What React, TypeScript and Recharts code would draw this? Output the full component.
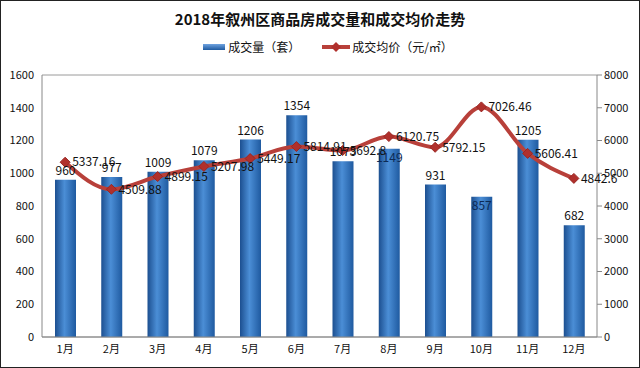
import { Bar, CartesianGrid, ComposedChart, LabelList, Line, XAxis, YAxis } from "recharts";

const months = ["1月", "2月", "3月", "4月", "5月", "6月", "7月", "8月", "9月", "10月", "11月", "12月"];
const volume = [960, 977, 1009, 1079, 1206, 1354, 1073, 1149, 931, 857, 1205, 682];
const price = [5337.16, 4509.88, 4899.15, 5207.98, 5449.17, 5814.91, 5692.8, 6120.75, 5792.15, 7026.46, 5606.41, 4842.6];
const leftTicks = [0, 200, 400, 600, 800, 1000, 1200, 1400, 1600];
const rightTicks = [0, 1000, 2000, 3000, 4000, 5000, 6000, 7000, 8000];
// months whose volume label sits just inside the bar top, as in the source image
const insideLabel = ["8月", "10月"];

const data = months.map((m, i) => ({ month: m, volume: volume[i], price: price[i] }));

const font = "'Noto Sans CJK SC', 'Liberation Sans', sans-serif";

function Diamond(props: any) {
  const { cx, cy } = props;
  if (cx == null || cy == null) return null;
  const r = 5;
  return <path d={`M${cx},${cy - r}L${cx + r},${cy}L${cx},${cy + r}L${cx - r},${cy}Z`} fill="#b0302c" stroke="#9a2622" strokeWidth={1} />;
}

function VolumeLabel(props: any) {
  const { x, y, width, value, index } = props;
  const inside = insideLabel.includes(months[index]);
  return (
    <text
      x={x + width / 2}
      y={inside ? y + 13 : y - 5}
      textAnchor="middle"
      fontSize={12}
      fontFamily={font}
      fill={inside ? "#0c2a55" : "#111"}
    >
      {value}
    </text>
  );
}

export default function App() {
  return (
    <div style={{ position: "fixed", left: 0, top: 0, width: 640, height: 368, background: "#fff", fontFamily: font }}>
      <div style={{ position: "absolute", left: 0, top: 0, width: 638, height: 366, border: "1px solid #222" }} />
      <div style={{ position: "absolute", top: 8, width: 640, textAlign: "center", fontSize: 15, fontWeight: "bold", color: "#111" }}>
        2018年叙州区商品房成交量和成交均价走势
      </div>
      <div style={{ position: "absolute", top: 38, left: 8, width: 640, display: "flex", justifyContent: "center", alignItems: "center", fontSize: 12, color: "#111" }}>
        <span style={{ display: "inline-block", width: 22, height: 6, background: "linear-gradient(#6fa3e0,#1f5aa0)", marginRight: 3 }} />
        <span>成交量（套）</span>
        <svg width={28} height={12} style={{ marginLeft: 22, marginRight: 2 }}>
          <line x1={0} y1={6} x2={28} y2={6} stroke="#b8403a" strokeWidth={4} />
          <path d="M14,1L19,6L14,11L9,6Z" fill="#b0302c" />
        </svg>
        <span>成交均价（元/㎡）</span>
      </div>
      <div style={{ position: "absolute", left: 0, top: 0 }}>
        <ComposedChart width={640} height={368} data={data} margin={{ top: 75, right: 0, bottom: 6, left: 0 }}>
          <defs>
            <linearGradient id="barBlue" x1="0" y1="0" x2="1" y2="0">
              <stop offset="0%" stopColor="#1c4f90" />
              <stop offset="45%" stopColor="#4b8ed6" />
              <stop offset="100%" stopColor="#1f5aa0" />
            </linearGradient>
          </defs>
          <CartesianGrid stroke="#9a9a9a" vertical={false} />
          <XAxis
            dataKey="month"
            stroke="#888"
            tickLine={false}
            height={25}
            tick={{ fontSize: 11, fill: "#111", fontFamily: font }}
          />
          <YAxis
            yAxisId="left"
            domain={[0, 1600]}
            ticks={leftTicks}
            width={42}
            stroke="#888"
            tickLine={false}
            tick={{ fontSize: 11, fill: "#111", fontFamily: font }}
          />
          <YAxis
            yAxisId="right"
            orientation="right"
            domain={[0, 8000]}
            ticks={rightTicks}
            width={43}
            stroke="#888"
            tickSize={5}
            tick={{ fontSize: 11, fill: "#111", fontFamily: font }}
          />
          <Bar yAxisId="left" dataKey="volume" barSize={21} fill="url(#barBlue)" isAnimationActive={false}>
            <LabelList dataKey="volume" content={<VolumeLabel />} />
          </Bar>
          <Line
            yAxisId="right"
            type="monotone"
            dataKey="price"
            stroke="#b8403a"
            strokeWidth={4}
            dot={<Diamond />}
            activeDot={false}
            isAnimationActive={false}
          >
            <LabelList dataKey="price" position="right" offset={7} fontSize={12} fill="#111" fontFamily={font} />
          </Line>
        </ComposedChart>
      </div>
    </div>
  );
}
